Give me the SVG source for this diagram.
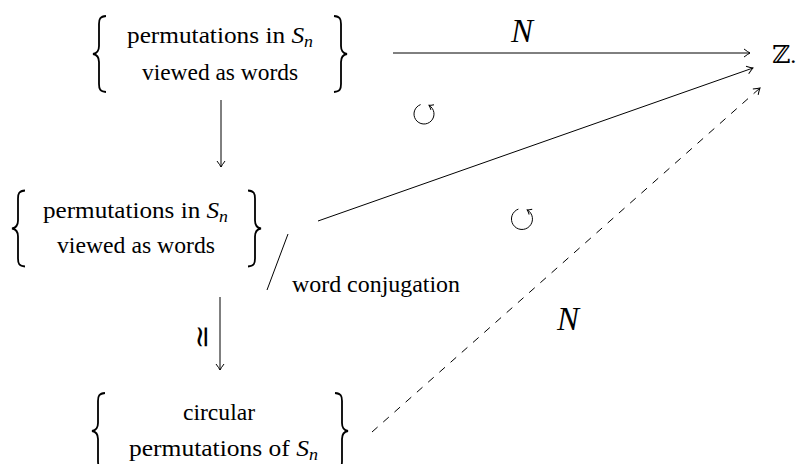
<svg xmlns="http://www.w3.org/2000/svg" width="799" height="464" viewBox="0 0 799 464">
<style>
.t{font-size:24px;fill:#000}
.i{font-style:italic}
.sub{font-size:17px;font-style:italic}
.br{fill:none;stroke:#000;stroke-width:1.8}
.ln{fill:none;stroke:#000;stroke-width:1}
.lbl{font-size:33px;font-style:italic;fill:#000}
</style>
<defs>
<path id="lb" d="M13,-38 C7,-37.5 6,-35 6,-30 L6,-8 C6,-3 3,-0.5 0,0 C3,0.5 6,3 6,8 L6,30 C6,35 7,37.5 13,38"/>
<marker id="ah" markerUnits="userSpaceOnUse" viewBox="-8 -5 10 10" refX="0" refY="0" markerWidth="10" markerHeight="10" orient="auto">
<path d="M-6,-4 Q-2,-1 0,0 Q-2,1 -6,4" fill="none" stroke="#000" stroke-width="1"/>
</marker>
<marker id="sh" markerUnits="userSpaceOnUse" viewBox="-6 -4 8 8" refX="0" refY="0" markerWidth="8" markerHeight="8" orient="auto">
<path d="M-4,-3 Q-1.5,-0.8 0,0 Q-1.5,0.8 -4,3" fill="none" stroke="#000" stroke-width="1"/>
</marker>
</defs>

<g id="node-top" font-family="'Liberation Serif', 'Times New Roman', 'DejaVu Serif', serif">
<use href="#lb" class="br" transform="translate(93,54)"/>
<use href="#lb" class="br" transform="translate(347,54) scale(-1,1)"/>
<text class="t" x="127" y="43" textLength="186" lengthAdjust="spacingAndGlyphs">permutations in <tspan class="i">S</tspan><tspan class="sub" dy="4">n</tspan></text>
<text class="t" x="142" y="80" textLength="156" lengthAdjust="spacingAndGlyphs">viewed as words</text>
</g>

<g id="node-mid" font-family="'Liberation Serif', 'Times New Roman', 'DejaVu Serif', serif">
<use href="#lb" class="br" transform="translate(12,228.5)"/>
<use href="#lb" class="br" transform="translate(261,228.5) scale(-1,1)"/>
<text class="t" x="43" y="218" textLength="185" lengthAdjust="spacingAndGlyphs">permutations in <tspan class="i">S</tspan><tspan class="sub" dy="4">n</tspan></text>
<text class="t" x="57" y="253" textLength="158" lengthAdjust="spacingAndGlyphs">viewed as words</text>
<path class="ln" d="M288,234 L267,290" stroke-width="1.5"/>
<text class="t" x="292" y="292" textLength="168" lengthAdjust="spacingAndGlyphs">word conjugation</text>
</g>

<g id="node-bottom" font-family="'Liberation Serif', 'Times New Roman', 'DejaVu Serif', serif">
<use href="#lb" class="br" transform="translate(92,431)"/>
<use href="#lb" class="br" transform="translate(348,431) scale(-1,1)"/>
<text class="t" x="183" y="420" textLength="72" lengthAdjust="spacingAndGlyphs">circular</text>
<text class="t" x="129" y="456" textLength="189" lengthAdjust="spacingAndGlyphs">permutations of <tspan class="i">S</tspan><tspan class="sub" dy="4">n</tspan></text>
</g>

<g id="node-Z">
<text x="772" y="63" font-family="'DejaVu Serif', 'DejaVu Sans', serif" font-size="25" fill="#000">ℤ<tspan font-family="'Liberation Serif', serif" font-size="24">.</tspan></text>
</g>

<g id="connectors" font-family="'Liberation Serif', 'Times New Roman', 'DejaVu Serif', serif">
<path class="ln" d="M393,53 L750,53" marker-end="url(#ah)"/>
<text class="lbl" x="522" y="42" text-anchor="middle">N</text>
<path class="ln" d="M221,100 L221,167" marker-end="url(#ah)"/>
<path class="ln" d="M220,297 L220,370" marker-end="url(#ah)"/>
<text x="201" y="337" font-family="'DejaVu Serif', serif" font-size="30" text-anchor="middle" dominant-baseline="central" transform="rotate(-90 201 337)">≃</text>
<path class="ln" d="M318,221 L753,68" marker-end="url(#ah)"/>
<path class="ln" d="M372,432 L760,88" stroke-dasharray="7.5 7.5" marker-end="url(#ah)"/>
<text class="lbl" x="568" y="330" text-anchor="middle">N</text>
<path class="ln" d="M420.58,104.6 A10,10 0 1 0 429,105.34" marker-end="url(#sh)"/>
<path class="ln" d="M518.4,209.1 A10.5,10.5 0 1 0 527.25,209.9" marker-end="url(#sh)"/>
</g>
</svg>
